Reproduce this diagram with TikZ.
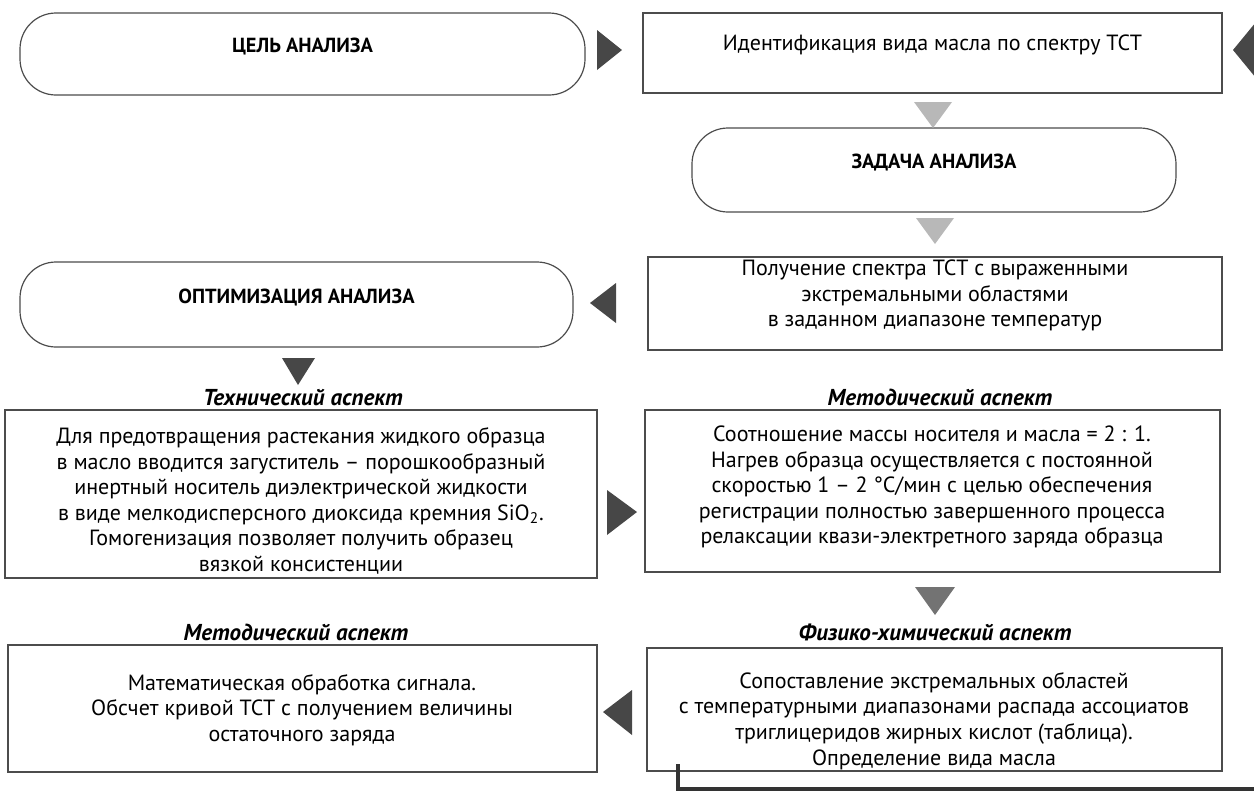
\documentclass[tikz,border=0pt]{standalone}
\usepackage{fontspec}
\setmainfont{PT Sans}
\usetikzlibrary{fit,calc}

\begin{document}
\begin{tikzpicture}[x=0.5pt, y=-0.5pt,
  every node/.style={font=\fontsize{11}{12.8}\selectfont},
  plainbox/.style={draw=black!70, line width=0.6pt, inner sep=0pt, align=center},
  roundbox/.style={plainbox, rounded corners=18pt, font=\fontsize{10.2}{12}\selectfont\bfseries},
  darkarrow/.style={fill=black!72},
  midarrow/.style={fill=black!55},
  lightarrow/.style={fill=black!28},
  aspect/.style={font=\fontsize{11.5}{13}\selectfont\bfseries\itshape}]
  \useasboundingbox (0,0) rectangle (1254,804);

  % top row
  \node[roundbox, fit={(20,13) (585,95)}] (goal) {ЦЕЛЬ АНАЛИЗА};
  \node[plainbox, fit={(643,13) (1222,93)}] (ident) {Идентификация вида масла по спектру ТСТ};
  \node[roundbox, fit={(692,128) (1176,212)}] (task) {ЗАДАЧА АНАЛИЗА};
  \node[plainbox, fit={(648,257) (1222,350)}] (spectrum) {Получение спектра ТСТ с выраженными\\экстремальными областями\\в заданном диапазоне температур};
  \node[roundbox, fit={(20,262) (573,347)}] (optim) {ОПТИМИЗАЦИЯ АНАЛИЗА};

  % aspects
  \node[aspect] (techhead) at (303,398) {Технический аспект};
  \node[plainbox, fit={(5,410) (597,578)}] (tech) {};
  \node[align=center] (techtext) at (301,501) {Для предотвращения растекания жидкого образца\\в масло вводится загуститель -- порошкообразный\\инертный носитель диэлектрической жидкости\\в виде мелкодисперсного диоксида кремния SiO\textsubscript{2}.\\Гомогенизация позволяет получить образец\\вязкой консистенции};
  \node[aspect] (methhead) at (940,397) {Методический аспект};
  \node[plainbox, fit={(645,410) (1220,572)}] (meth) {};
  \node[align=center] (methtext) at (932,487) {Соотношение массы носителя и масла = 2 : 1.\\Нагрев образца осуществляется с постоянной\\скоростью 1 -- 2 °С/мин с целью обеспечения\\регистрации полностью завершенного процесса\\релаксации квази-электретного заряда образца};
  \node[aspect] (physhead) at (935,632) {Физико-химический аспект};
  \node[plainbox, fit={(647,648) (1222,771)}] (phys) {};
  \node[align=center] (phystext) at (934,721) {Сопоставление экстремальных областей\\с температурными диапазонами распада ассоциатов\\триглицеридов жирных кислот (таблица).\\Определение вида масла};
  \node[aspect] (mathhead) at (296,632) {Методический аспект};
  \node[plainbox, fit={(8,645) (597,772)}] (math) {};
  \node[align=center] (mathtext) at (302,710) {Математическая обработка сигнала.\\Обсчет кривой ТСТ с получением величины\\остаточного заряда};

  % arrow marks
  \fill[darkarrow] (597,30) -- (622,50) -- (597,70) -- cycle;
  \fill[darkarrow] (1256,22) -- (1233,50) -- (1256,78) -- cycle;
  \fill[lightarrow] (914,102) -- (952,102) -- (933,128) -- cycle;
  \fill[lightarrow] (916,218) -- (954,218) -- (935,244) -- cycle;
  \fill[darkarrow] (616,283) -- (590,303) -- (616,323) -- cycle;
  \fill[darkarrow] (282,358) -- (315,358) -- (298,385) -- cycle;
  \fill[darkarrow] (607,490) -- (637,512) -- (607,535) -- cycle;
  \fill[midarrow] (915,587) -- (955,587) -- (935,615) -- cycle;
  \fill[darkarrow] (632,690) -- (603,712) -- (632,735) -- cycle;

  % return line
  \coordinate (back) at (678,764);
  \coordinate (backend) at (1256,789);
  \draw[line width=2.2pt, black!80] (back) |- (backend);
\end{tikzpicture}
\end{document}
